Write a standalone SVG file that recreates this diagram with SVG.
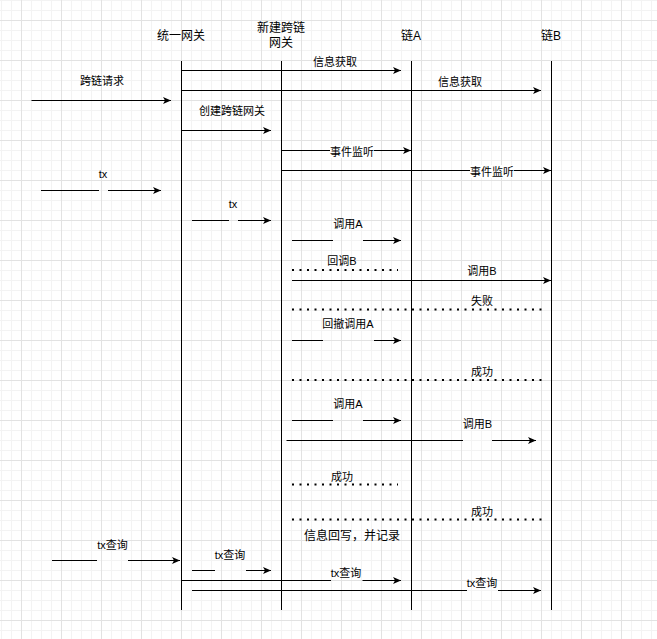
<svg xmlns="http://www.w3.org/2000/svg" width="657" height="639" viewBox="0 0 657 639">
<defs>
<pattern id="minor" x="1" y="0" width="10" height="10" patternUnits="userSpaceOnUse"><path d="M0.5,0 V10 M0,0.5 H10" stroke="#f3f3f3" stroke-width="1" fill="none"/></pattern>
<pattern id="major" x="21" y="20" width="40" height="40" patternUnits="userSpaceOnUse"><path d="M0.5,0 V40 M0,0.5 H40" stroke="#e2e2e2" stroke-width="1" fill="none"/></pattern>
<marker id="arr" markerUnits="userSpaceOnUse" markerWidth="9" markerHeight="8" refX="8" refY="3.5" orient="auto"><path d="M0,0 L8,3.5 L0,7 L2,3.5 Z" fill="#000"/></marker>
</defs>
<style>
.life{stroke:#000;stroke-width:1;fill:none}
.ln{stroke:#000;stroke-width:1;fill:none}
.ar{stroke:#000;stroke-width:1;fill:none;marker-end:url(#arr)}
.dot{stroke:#000;stroke-width:2;stroke-dasharray:2 5.5;fill:none}
.nt{font-family:"Liberation Sans","Noto Sans CJK SC",sans-serif;font-size:12px;fill:#000;text-anchor:middle}
.et{font-family:"Liberation Sans","Noto Sans CJK SC",sans-serif;font-size:11px;fill:#000;text-anchor:middle}
.bg{fill:#fff}
</style>
<rect width="657" height="639" fill="#fff"/>
<rect width="657" height="639" fill="url(#minor)"/>
<rect width="657" height="639" fill="url(#major)"/>

<g id="node-unified-gateway">
<line class="life" x1="181.5" y1="61" x2="181.5" y2="610"/>
<text class="nt" x="181" y="39.5">统一网关</text>
</g>
<g id="node-new-gateway">
<line class="life" x1="281.5" y1="61" x2="281.5" y2="610"/>
<text class="nt" x="281" y="32">新建跨链</text>
<text class="nt" x="281" y="47">网关</text>
</g>
<g id="node-chain-a">
<line class="life" x1="411.5" y1="61" x2="411.5" y2="610"/>
<text class="nt" x="411" y="39.5">链A</text>
</g>
<g id="node-chain-b">
<line class="life" x1="551.5" y1="61" x2="551.5" y2="610"/>
<text class="nt" x="551" y="39.5">链B</text>
</g>

<g id="connectors">
<line class="ar" x1="181.5" y1="70.5" x2="401" y2="70.5"/>
<text class="et" x="335" y="65.5">信息获取</text>

<line class="ar" x1="181.5" y1="90.5" x2="541" y2="90.5"/>
<text class="et" x="460" y="85.5">信息获取</text>

<line class="ar" x1="31.5" y1="100.5" x2="171" y2="100.5"/>
<text class="et" x="102" y="85">跨链请求</text>

<line class="ar" x1="181.5" y1="130.5" x2="271" y2="130.5"/>
<text class="et" x="232" y="115">创建跨链网关</text>

<line class="ar" x1="281.5" y1="150.5" x2="411" y2="150.5"/>
<rect class="bg" x="330" y="145" width="44" height="13"/>
<text class="et" x="352" y="156">事件监听</text>

<line class="ar" x1="281.5" y1="170.5" x2="551" y2="170.5"/>
<rect class="bg" x="470" y="165" width="44" height="13"/>
<text class="et" x="492" y="176">事件监听</text>

<line class="ln" x1="41" y1="190.5" x2="99" y2="190.5"/>
<line class="ar" x1="108" y1="190.5" x2="161" y2="190.5"/>
<text class="et" x="103" y="178">tx</text>

<line class="ln" x1="192" y1="220.5" x2="229" y2="220.5"/>
<line class="ar" x1="238" y1="220.5" x2="271" y2="220.5"/>
<text class="et" x="233" y="208">tx</text>

<line class="ln" x1="292" y1="240.5" x2="333" y2="240.5"/>
<line class="ar" x1="363" y1="240.5" x2="401" y2="240.5"/>
<text class="et" x="348" y="228">调用A</text>

<line class="dot" x1="292" y1="270" x2="398" y2="270"/>
<text class="et" x="342" y="265">回调B</text>

<line class="ar" x1="292" y1="280.5" x2="551" y2="280.5"/>
<text class="et" x="482" y="275">调用B</text>

<line class="dot" x1="292" y1="309.5" x2="543" y2="309.5"/>
<text class="et" x="482" y="305">失败</text>

<line class="ln" x1="292" y1="340.5" x2="323" y2="340.5"/>
<line class="ar" x1="374" y1="340.5" x2="401" y2="340.5"/>
<text class="et" x="348" y="328">回撤调用A</text>

<line class="dot" x1="292" y1="380" x2="543" y2="380"/>
<text class="et" x="482" y="376">成功</text>

<line class="ln" x1="292" y1="420.5" x2="333" y2="420.5"/>
<line class="ar" x1="363" y1="420.5" x2="401" y2="420.5"/>
<text class="et" x="348" y="408">调用A</text>

<line class="ln" x1="286.5" y1="440.5" x2="463" y2="440.5"/>
<line class="ar" x1="492" y1="440.5" x2="536" y2="440.5"/>
<text class="et" x="477.5" y="428">调用B</text>

<line class="dot" x1="292" y1="484.5" x2="398" y2="484.5"/>
<text class="et" x="342" y="481">成功</text>

<line class="dot" x1="292" y1="519.5" x2="543" y2="519.5"/>
<text class="et" x="482" y="516">成功</text>

<text class="nt" x="352" y="540">信息回写，并记录</text>

<line class="ln" x1="52" y1="560.5" x2="97" y2="560.5"/>
<line class="ar" x1="128" y1="560.5" x2="180" y2="560.5"/>
<text class="et" x="112.5" y="548.5">tx查询</text>

<line class="ln" x1="192" y1="570.5" x2="215" y2="570.5"/>
<line class="ar" x1="246" y1="570.5" x2="271" y2="570.5"/>
<text class="et" x="230" y="558.5">tx查询</text>

<line class="ln" x1="181.5" y1="580.5" x2="331" y2="580.5"/>
<line class="ar" x1="362.5" y1="580.5" x2="401" y2="580.5"/>
<text class="et" x="346" y="576.5">tx查询</text>

<line class="ln" x1="192" y1="590.5" x2="467" y2="590.5"/>
<line class="ar" x1="498" y1="590.5" x2="541" y2="590.5"/>
<text class="et" x="482" y="586.5">tx查询</text>
</g>
</svg>
